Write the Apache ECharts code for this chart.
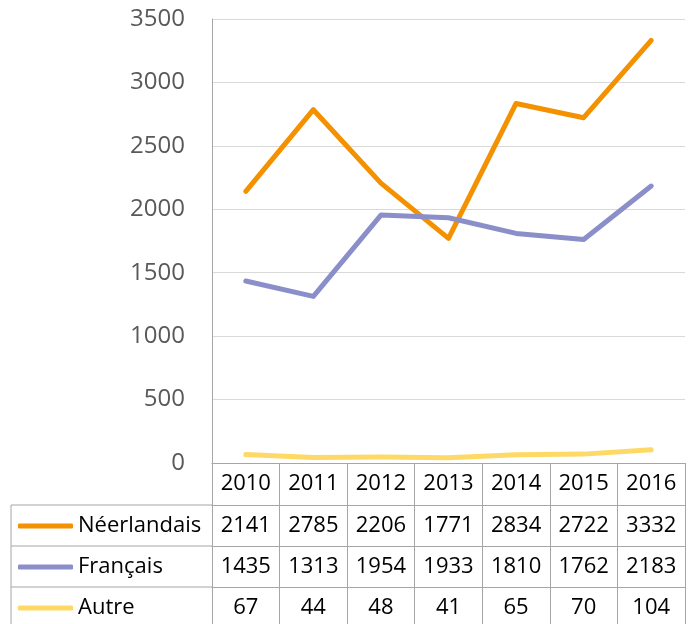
<!DOCTYPE html>
<html>
<head>
<meta charset="utf-8">
<script src="https://cdn.jsdelivr.net/npm/echarts@6/dist/echarts.min.js"></script>
<style>
  html, body { margin: 0; padding: 0; background: #fff; }
  #chart { width: 688px; height: 624px; }
</style>
</head>
<body>
<div id="chart"></div>
<script>
// données du graphique
var years = ['2010', '2011', '2012', '2013', '2014', '2015', '2016'];
var seriesNames = ['Néerlandais', 'Français', 'Autre'];
var neerlandais = [2141, 2785, 2206, 1771, 2834, 2722, 3332];
var francais = [1435, 1313, 1954, 1933, 1810, 1762, 2183];
var autre = [67, 44, 48, 41, 65, 70, 104];
var yTicks = { min: 0, max: 3500, interval: 500 };

var colors = ['#F49100', '#8B8FC9', '#FFD965'];
var rows = [neerlandais, francais, autre];
var rowOffsets = [0, 42, 83, 124];
var tableLine = '#A6A6A6';
var font = '"Open Sans", sans-serif';

var myChart = echarts.init(document.getElementById('chart'));

// un axe x par ligne du tableau (années puis une ligne par série)
var xAxes = [];
for (var r = 0; r < 4; r++) {
  (function (r) {
    xAxes.push({
      type: 'category',
      data: years,
      position: 'bottom',
      offset: rowOffsets[r],
      boundaryGap: true,
      axisLine: { show: true, lineStyle: { color: tableLine, width: 1 } },
      axisTick: { show: true, length: 42, interval: 0, lineStyle: { color: tableLine } },
      splitLine: { show: false },
      axisLabel: {
        show: true,
        interval: 0,
        margin: 21,
        verticalAlign: 'middle',
        color: '#000',
        fontSize: 22,
        fontFamily: font,
        formatter: function (v, i) {
          return r === 0 ? v : String(rows[r - 1][i]);
        }
      }
    });
  })(r);
}

// légendes : une par ligne du tableau
var legends = seriesNames.map(function (name, i) {
  return {
    data: [name],
    left: 18,
    top: 463 + rowOffsets[i + 1] + 10,
    orient: 'horizontal',
    icon: 'roundRect',
    itemWidth: 55,
    itemHeight: 5,
    selectedMode: false,
    padding: 0,
    textStyle: { color: '#000', fontSize: 22, fontFamily: font, lineHeight: 22 }
  };
});

var series = seriesNames.map(function (name, i) {
  return {
    name: name,
    type: 'line',
    data: rows[i],
    xAxisIndex: 0,
    symbol: 'none',
    smooth: false,
    color: colors[i],
    lineStyle: { width: 5, color: colors[i], cap: 'round', join: 'round' },
    itemStyle: { color: colors[i] }
  };
});

var option = {
  animation: false,
  backgroundColor: '#fff',
  grid: { left: 212, right: 3, top: 19, bottom: 161, containLabel: false },
  legend: legends,
  xAxis: xAxes,
  yAxis: {
    type: 'value',
    min: yTicks.min,
    max: yTicks.max,
    interval: yTicks.interval,
    axisLine: { show: true, lineStyle: { color: tableLine } },
    axisTick: { show: false },
    splitLine: { show: true, lineStyle: { color: '#D9D9D9', width: 1 } },
    axisLabel: {
      color: '#595959', fontSize: 24, fontFamily: font, margin: 27,
      formatter: function (v) { return String(v); }
    }
  },
  // bordures de la colonne de gauche du tableau
  graphic: [
    { type: 'line', shape: { x1: 11, y1: 505, x2: 212, y2: 505 }, style: { stroke: tableLine, lineWidth: 1 } },
    { type: 'line', shape: { x1: 11, y1: 546, x2: 212, y2: 546 }, style: { stroke: tableLine, lineWidth: 1 } },
    { type: 'line', shape: { x1: 11, y1: 587, x2: 212, y2: 587 }, style: { stroke: tableLine, lineWidth: 1 } },
    { type: 'line', shape: { x1: 11, y1: 505, x2: 11, y2: 624 }, style: { stroke: tableLine, lineWidth: 1 } }
  ],
  series: series
};

myChart.setOption(option, true);
</script>
</body>
</html>
